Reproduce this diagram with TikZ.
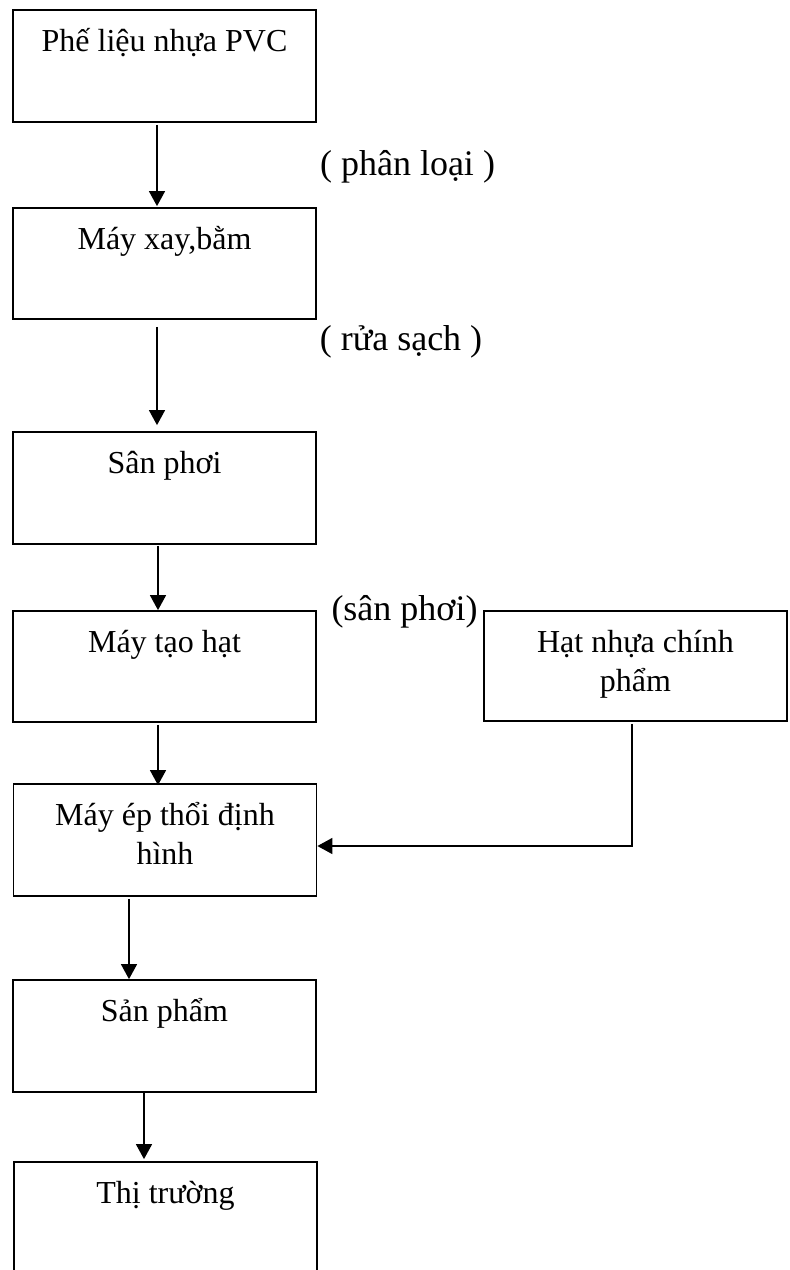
\documentclass[tikz,border=0pt]{standalone}
\usepackage{fontspec}
\setmainfont{Liberation Serif}
\usetikzlibrary{arrows.meta}

% box contents: fixed-size parbox, text set from the top
\newcommand\stagetext[2]{\parbox[c][#1][t]{303pt}{\centering\rule{0pt}{41pt}#2}}

\tikzset{
  stage/.style={draw, line width=1.8pt, inner sep=0pt, font=\fontsize{32}{39}\selectfont},
  note/.style={inner sep=0pt, anchor=base, font=\fontsize{36}{42}\selectfont},
  arr/.style={-{Triangle[length=15pt,width=16pt]}, line width=1.5pt}
}

\begin{document}
\begin{tikzpicture}[x=1pt, y=-1pt]
\useasboundingbox (0,0) rectangle (790,1270);
\fill[white] (0,0) rectangle (790,1270);

% process boxes
\node[stage] (b1) at (164.5,66)   {\stagetext{112pt}{Phế liệu nhựa PVC}};
\node[stage] (b2) at (164.5,263.5){\stagetext{111pt}{Máy xay,bằm}};
\node[stage] (b3) at (164.5,488)  {\stagetext{112pt}{Sân phơi}};
\node[stage] (b4) at (164.5,666.5){\stagetext{111pt}{Máy tạo hạt}};
\node[stage] (b5) at (165,840)    {\stagetext{112pt}{Máy ép thổi định\\hình}};
\node[stage] (b6) at (164.5,1036) {\stagetext{112pt}{Sản phẩm}};
\node[stage] (b7) at (165.5,1218) {\stagetext{112pt}{Thị trường}};
\node[stage] (b8) at (635.5,666)  {\stagetext{110pt}{Hạt nhựa chính\\phẩm}};

% step notes
\node[note] (l1) at (407.5,175) {( phân loại )};
\node[note] (l2) at (401,350)   {( rửa sạch )};
\node[note] (l3) at (404.5,620) {(sân phơi)};

% connectors
\draw[arr] ([xshift=-7.5pt,yshift=-2pt]b1.south) -- ([xshift=-7.5pt,yshift=1pt]b2.north);
\draw[arr] ([xshift=-7.5pt,yshift=-7pt]b2.south) -- ([xshift=-7.5pt,yshift=6pt]b3.north);
\draw[arr] ([xshift=-6.5pt,yshift=-1pt]b3.south) -- ([xshift=-6.5pt]b4.north);
\draw[arr] ([xshift=-6.5pt,yshift=-2pt]b4.south) -- ([xshift=-7pt,yshift=-2pt]b5.north);
\draw[arr] ([xshift=-36pt,yshift=-2pt]b5.south) -- ([xshift=-35.5pt]b6.north);
\draw[arr] ([xshift=-20.5pt]b6.south) -- ([xshift=-21.5pt,yshift=2pt]b7.north);
\draw[arr] ([xshift=-3.5pt,yshift=-2pt]b8.south) |- ([yshift=-6pt]b5.east);
\end{tikzpicture}
\end{document}
